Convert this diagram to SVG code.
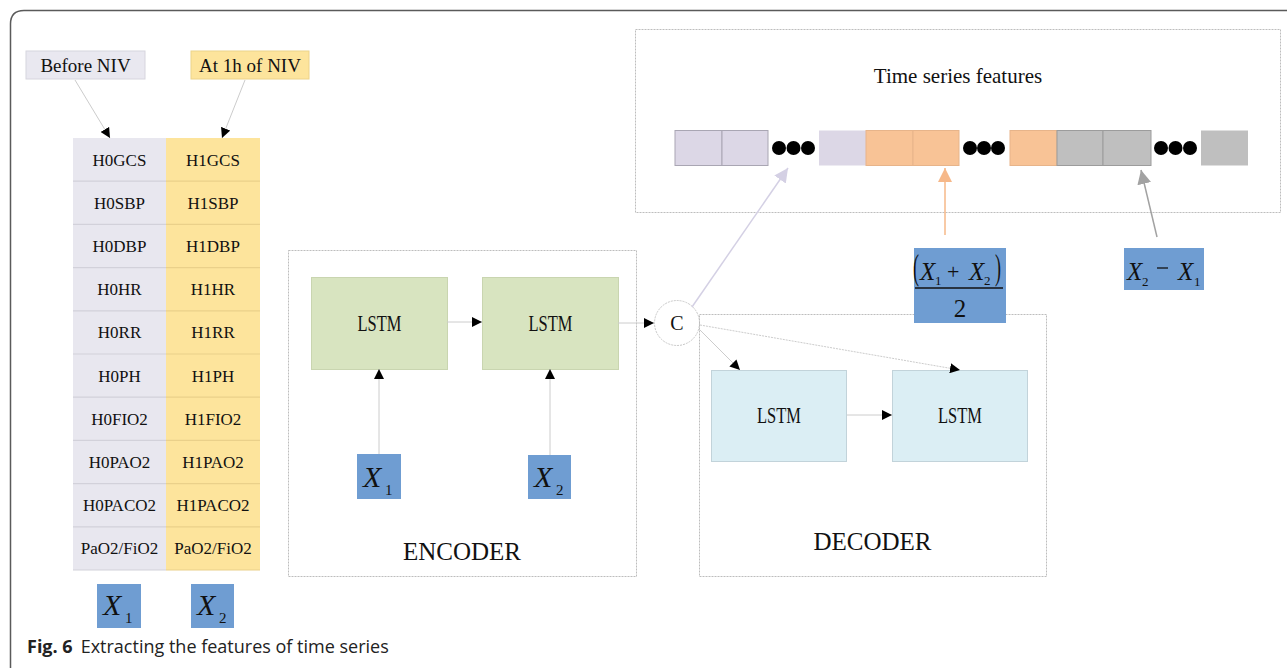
<svg xmlns="http://www.w3.org/2000/svg" width="1287" height="668" viewBox="0 0 1287 668">
<defs>
<style>
.t{font-family:"Liberation Serif","Times New Roman",serif;fill:#111;text-anchor:middle}
.cell{font-size:17px}
.hdr{font-size:19px}
.lstm{font-size:23px}
.big{font-size:25px}
.mx{font-family:"Liberation Serif","Times New Roman",serif;font-style:italic;fill:#111}
.mn{font-family:"Liberation Serif","Times New Roman",serif;fill:#111}
.frame{fill:none;stroke:#bdbdbd;stroke-width:1;stroke-dasharray:2 1}
.blue{fill:#6f9dd2}
.green{fill:#d8e4c0;stroke:#c9d5b0;stroke-width:1}
.lblue{fill:#dbeef4;stroke:#c2d3da;stroke-width:1}
.con{fill:none;stroke:#cccccc;stroke-width:1}
.lav{fill:#dcd7e6;stroke:#a9a6b3;stroke-width:1}
.org{fill:#f8c396;stroke:#e7b48a;stroke-width:1}
.gry{fill:#bfbfbf;stroke:#9c9c9c;stroke-width:1}
</style>
<marker id="ah" viewBox="0 0 10 10" refX="10" refY="5" markerWidth="10" markerHeight="10" markerUnits="userSpaceOnUse" orient="auto"><path d="M0,0 L10,5 L0,10 z" fill="#000"/></marker>
<marker id="ahl" viewBox="0 0 10 10" refX="10" refY="5" markerWidth="14" markerHeight="14" markerUnits="userSpaceOnUse" orient="auto"><path d="M0,0 L10,5 L0,10 z" fill="#d4d0e4"/></marker>
<marker id="aho" viewBox="0 0 10 10" refX="10" refY="5" markerWidth="14" markerHeight="14" markerUnits="userSpaceOnUse" orient="auto"><path d="M0,0 L10,5 L0,10 z" fill="#f6b889"/></marker>
<marker id="ahg" viewBox="0 0 10 10" refX="10" refY="5" markerWidth="14" markerHeight="14" markerUnits="userSpaceOnUse" orient="auto"><path d="M0,0 L10,5 L0,10 z" fill="#a2a2a2"/></marker>
</defs>
<rect width="1287" height="668" fill="#fff"/>
<path d="M1287,10.5 H24 Q10.5,10.5 10.5,24 V668" fill="none" stroke="#5a5a5a" stroke-width="1.5"/>

<!-- headers -->
<g id="before-niv">
<rect x="26" y="51" width="119" height="28" fill="#e9e8f0" stroke="#d6d5de"/>
<text class="t hdr" x="85.5" y="71.5">Before NIV</text>
</g>
<g id="at-1h-niv">
<rect x="191" y="51" width="118" height="28" fill="#fde49c" stroke="#ecd38a"/>
<text class="t hdr" x="250" y="71.5">At 1h of NIV</text>
</g>

<!-- table -->
<g id="col-h0">
<rect x="73" y="138" width="93" height="432" fill="#e8e7ef"/>
<g stroke="#d2d1da" stroke-width="1.2">
<line x1="73" y1="181.2" x2="166" y2="181.2"/><line x1="73" y1="224.4" x2="166" y2="224.4"/>
<line x1="73" y1="267.6" x2="166" y2="267.6"/><line x1="73" y1="310.8" x2="166" y2="310.8"/>
<line x1="73" y1="354" x2="166" y2="354"/><line x1="73" y1="397.2" x2="166" y2="397.2"/>
<line x1="73" y1="440.4" x2="166" y2="440.4"/><line x1="73" y1="483.6" x2="166" y2="483.6"/>
<line x1="73" y1="526.8" x2="166" y2="526.8"/><line x1="73" y1="570" x2="166" y2="570"/>
</g>
<text class="t cell" x="119.5" y="165.6">H0GCS</text>
<text class="t cell" x="119.5" y="208.8">H0SBP</text>
<text class="t cell" x="119.5" y="252">H0DBP</text>
<text class="t cell" x="119.5" y="295.2">H0HR</text>
<text class="t cell" x="119.5" y="338.4">H0RR</text>
<text class="t cell" x="119.5" y="381.6">H0PH</text>
<text class="t cell" x="119.5" y="424.8">H0FIO2</text>
<text class="t cell" x="119.5" y="468">H0PAO2</text>
<text class="t cell" x="119.5" y="511.2">H0PACO2</text>
<text class="t cell" x="119.5" y="554.4">PaO2/FiO2</text>
</g>
<g id="col-h1">
<rect x="166" y="138" width="94" height="432" fill="#fde49c"/>
<g stroke="#ead08a" stroke-width="1.2">
<line x1="166" y1="181.2" x2="260" y2="181.2"/><line x1="166" y1="224.4" x2="260" y2="224.4"/>
<line x1="166" y1="267.6" x2="260" y2="267.6"/><line x1="166" y1="310.8" x2="260" y2="310.8"/>
<line x1="166" y1="354" x2="260" y2="354"/><line x1="166" y1="397.2" x2="260" y2="397.2"/>
<line x1="166" y1="440.4" x2="260" y2="440.4"/><line x1="166" y1="483.6" x2="260" y2="483.6"/>
<line x1="166" y1="526.8" x2="260" y2="526.8"/><line x1="166" y1="570" x2="260" y2="570"/>
</g>
<text class="t cell" x="213" y="165.6">H1GCS</text>
<text class="t cell" x="213" y="208.8">H1SBP</text>
<text class="t cell" x="213" y="252">H1DBP</text>
<text class="t cell" x="213" y="295.2">H1HR</text>
<text class="t cell" x="213" y="338.4">H1RR</text>
<text class="t cell" x="213" y="381.6">H1PH</text>
<text class="t cell" x="213" y="424.8">H1FIO2</text>
<text class="t cell" x="213" y="468">H1PAO2</text>
<text class="t cell" x="213" y="511.2">H1PACO2</text>
<text class="t cell" x="213" y="554.4">PaO2/FiO2</text>
</g>

<g id="x1-table">
<rect class="blue" x="97" y="584" width="44" height="44"/>
<text class="mx" x="103" y="615" font-size="30">X</text><text class="mn" x="125" y="623" font-size="15">1</text>
</g>
<g id="x2-table">
<rect class="blue" x="191" y="584" width="43" height="44"/>
<text class="mx" x="197" y="615" font-size="30">X</text><text class="mn" x="219" y="623" font-size="15">2</text>
</g>

<!-- encoder -->
<g id="encoder">
<rect class="frame" x="288.5" y="250.5" width="348" height="326"/>
<text class="t big" x="462" y="560">ENCODER</text>
</g>
<g id="enc-lstm1">
<rect class="green" x="311.5" y="277.5" width="136" height="92"/>
<text class="t lstm" x="379.5" y="331" textLength="44" lengthAdjust="spacingAndGlyphs">LSTM</text>
</g>
<g id="enc-lstm2">
<rect class="green" x="482.5" y="277.5" width="136" height="92"/>
<text class="t lstm" x="550.5" y="331" textLength="44" lengthAdjust="spacingAndGlyphs">LSTM</text>
</g>
<g id="enc-x1">
<rect class="blue" x="357" y="454" width="44" height="45"/>
<text class="mx" x="363" y="487" font-size="30">X</text><text class="mn" x="385" y="495" font-size="15">1</text>
</g>
<g id="enc-x2">
<rect class="blue" x="528" y="455" width="43" height="44"/>
<text class="mx" x="534" y="487" font-size="30">X</text><text class="mn" x="556" y="495" font-size="15">2</text>
</g>

<g id="concat">
<circle cx="677" cy="323" r="22.5" fill="#fff" stroke="#c8c8c8" stroke-dasharray="2 1"/>
<text class="t" x="677" y="330" font-size="20">C</text>
</g>

<!-- decoder -->
<g id="decoder">
<rect class="frame" x="699.5" y="314.5" width="347" height="262"/>
<text class="t big" x="872.5" y="550">DECODER</text>
</g>
<g id="dec-lstm1">
<rect class="lblue" x="711.5" y="370.5" width="135" height="91"/>
<text class="t lstm" x="779" y="423" textLength="44" lengthAdjust="spacingAndGlyphs">LSTM</text>
</g>
<g id="dec-lstm2">
<rect class="lblue" x="892.5" y="370.5" width="135" height="91"/>
<text class="t lstm" x="960" y="423" textLength="44" lengthAdjust="spacingAndGlyphs">LSTM</text>
</g>

<!-- time series features -->
<g id="features">
<rect class="frame" x="635.5" y="29.5" width="645" height="183"/>
<text class="t" x="958" y="83" font-size="21">Time series features</text>
<rect class="lav" x="675" y="130.5" width="47" height="35"/>
<rect class="lav" x="722" y="130.5" width="46" height="35"/>
<circle cx="779" cy="148" r="7" fill="#000"/><circle cx="793.5" cy="148" r="7" fill="#000"/><circle cx="808" cy="148" r="7" fill="#000"/>
<rect x="819" y="130.5" width="47" height="35" fill="#dcd7e6"/>
<rect class="org" x="866" y="130.5" width="47" height="35"/>
<rect class="org" x="913" y="130.5" width="46" height="35"/>
<circle cx="970" cy="148" r="7" fill="#000"/><circle cx="984" cy="148" r="7" fill="#000"/><circle cx="998" cy="148" r="7" fill="#000"/>
<rect class="org" x="1010" y="130.5" width="47" height="35"/>
<rect class="gry" x="1057" y="130.5" width="46" height="35"/>
<rect class="gry" x="1103" y="130.5" width="48" height="35"/>
<circle cx="1161" cy="148" r="7" fill="#000"/><circle cx="1175.5" cy="148" r="7" fill="#000"/><circle cx="1190" cy="148" r="7" fill="#000"/>
<rect x="1201" y="130.5" width="47" height="35" fill="#bfbfbf"/>
</g>

<g id="mean-box">
<rect class="blue" x="914" y="248" width="92" height="75"/>
<text class="mn" x="913" y="279" font-size="36" transform="translate(913 279) scale(0.5 1) translate(-913 -279)">(</text>
<text class="mx" x="920" y="280" font-size="25">X</text><text class="mn" x="935" y="285" font-size="13">1</text>
<text class="mn" x="947" y="279" font-size="22">+</text>
<text class="mx" x="969" y="280" font-size="25">X</text><text class="mn" x="984" y="285" font-size="13">2</text>
<text class="mn" x="995" y="279" font-size="36" transform="translate(995 279) scale(0.5 1) translate(-995 -279)">)</text>
<line x1="915" y1="288" x2="1003" y2="288" stroke="#111" stroke-width="1.3"/>
<text class="mn" x="960" y="317" font-size="25" text-anchor="middle">2</text>
</g>
<g id="diff-box">
<rect class="blue" x="1124" y="248" width="80" height="42"/>
<text class="mx" x="1127" y="280" font-size="25">X</text><text class="mn" x="1142" y="286" font-size="13">2</text>
<line x1="1157" y1="268" x2="1168" y2="268" stroke="#111" stroke-width="1.3"/>
<text class="mx" x="1178" y="280" font-size="25">X</text><text class="mn" x="1194" y="286" font-size="13">1</text>
</g>

<!-- connectors -->
<g id="connectors">
<line class="con" x1="75" y1="80" x2="110" y2="138" marker-end="url(#ah)"/>
<line class="con" x1="245" y1="80" x2="222" y2="138" marker-end="url(#ah)"/>
<line class="con" x1="447" y1="322" x2="482" y2="322" marker-end="url(#ah)"/>
<line class="con" x1="618" y1="323" x2="654" y2="323" marker-end="url(#ah)"/>
<line class="con" x1="379" y1="454" x2="379" y2="369" marker-end="url(#ah)"/>
<line class="con" x1="550" y1="455" x2="550" y2="369" marker-end="url(#ah)"/>
<line class="con" x1="699" y1="329" x2="740" y2="370" marker-end="url(#ah)"/>
<line class="con" x1="700" y1="325" x2="960" y2="370" stroke-dasharray="2 1" marker-end="url(#ah)"/>
<line class="con" x1="847" y1="415" x2="892" y2="415" marker-end="url(#ah)"/>
<line x1="692" y1="307" x2="788" y2="168" stroke="#d4d0e4" stroke-width="1.5" marker-end="url(#ahl)"/>
<line x1="945" y1="235" x2="945" y2="168" stroke="#f6b889" stroke-width="1.5" marker-end="url(#aho)"/>
<line x1="1157" y1="237" x2="1141" y2="170" stroke="#a2a2a2" stroke-width="1.5" marker-end="url(#ahg)"/>
</g>

<g id="caption">
<text x="27" y="653" font-family="'Open Sans','Noto Sans',sans-serif" font-size="18" fill="#222"><tspan font-weight="bold">Fig. 6</tspan><tspan dx="8">Extracting the features of time series</tspan></text>
</g>
</svg>
